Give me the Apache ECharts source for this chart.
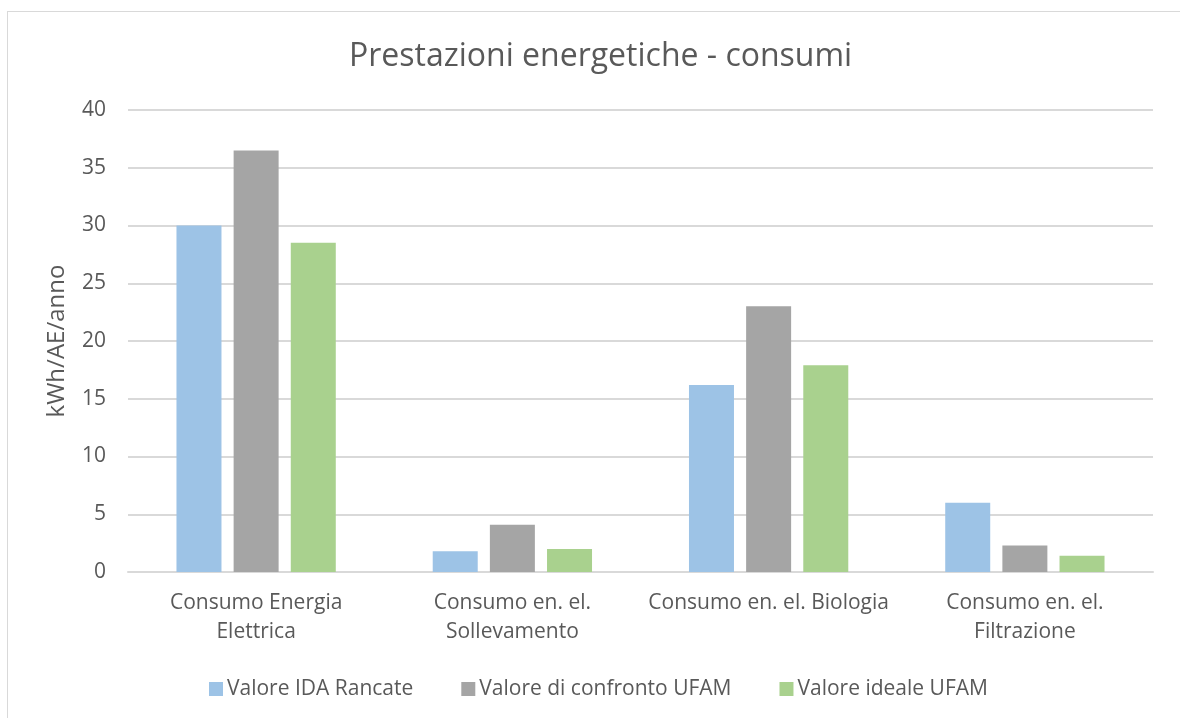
<!DOCTYPE html>
<html>
<head>
<meta charset="utf-8">
<script src="https://cdn.jsdelivr.net/npm/echarts@6/dist/echarts.min.js"></script>
<style>
  html, body { margin: 0; padding: 0; background: #ffffff; }
  #frame { position: absolute; left: 7px; top: 11px; width: 1180px; height: 720px; border: 1px solid #d9d9d9; box-sizing: border-box; }
  #chart { position: absolute; left: 0; top: 0; width: 1180px; height: 718px; }
</style>
</head>
<body>
<div id="frame"></div>
<div id="chart"></div>
<script>
// Categories along the x axis
const categories = [
  'Consumo Energia\nElettrica',
  'Consumo en. el.\nSollevamento',
  'Consumo en. el. Biologia',
  'Consumo en. el.\nFiltrazione'
];

// Series names and values (kWh/AE/anno)
const seriesNames = ['Valore IDA Rancate', 'Valore di confronto UFAM', 'Valore ideale UFAM'];
const idaRancate = [30.0, 1.8, 16.2, 6.0];
const confrontoUFAM = [36.5, 4.1, 23.0, 2.3];
const idealeUFAM = [28.5, 2.0, 17.9, 1.4];

const colors = ['#9dc3e6', '#a5a5a5', '#a9d18e'];
const textColor = '#595959';
const fontFamily = '"Open Sans", "Noto Sans", sans-serif';

const chart = echarts.init(document.getElementById('chart'), null, { renderer: 'canvas' });

function bar(name, data, color) {
  return {
    name: name,
    type: 'bar',
    data: data,
    barWidth: 45,
    barGap: '27%',
    itemStyle: { color: color },
    emphasis: { disabled: true }
  };
}

chart.setOption({
  animation: false,
  color: colors,
  textStyle: { fontFamily: fontFamily, color: textColor },
  title: {
    text: 'Prestazioni energetiche - consumi',
    left: 344,
    top: 36,
    textStyle: { fontFamily: fontFamily, fontSize: 32, fontWeight: 'normal', color: textColor }
  },
  legend: {
    data: seriesNames,
    left: 204,
    top: 673,
    itemWidth: 14,
    itemHeight: 14,
    itemGap: 48,
    icon: 'rect',
    textStyle: { fontFamily: fontFamily, fontSize: 21, lineHeight: 22, color: textColor, padding: [0, 0, 0, -1] }
  },
  grid: { left: 128, right: 27, top: 110, bottom: 146, containLabel: false },
  xAxis: {
    type: 'category',
    data: categories,
    axisLine: { lineStyle: { color: '#d9d9d9', width: 2 } },
    axisTick: { show: false },
    axisLabel: { color: textColor, fontSize: 21, lineHeight: 29, margin: 17, interval: 0 }
  },
  yAxis: {
    type: 'value',
    min: 0,
    max: 40,
    interval: 5,
    name: 'kWh/AE/anno',
    nameLocation: 'middle',
    nameGap: 59,
    nameTextStyle: { color: textColor, fontSize: 24 },
    axisLine: { show: false },
    axisTick: { show: false },
    axisLabel: { color: textColor, fontSize: 21, margin: 22 },
    splitLine: { lineStyle: { color: '#d9d9d9', width: 2 } }
  },
  series: [
    bar(seriesNames[0], idaRancate, colors[0]),
    bar(seriesNames[1], confrontoUFAM, colors[1]),
    bar(seriesNames[2], idealeUFAM, colors[2])
  ]
});
</script>
</body>
</html>
